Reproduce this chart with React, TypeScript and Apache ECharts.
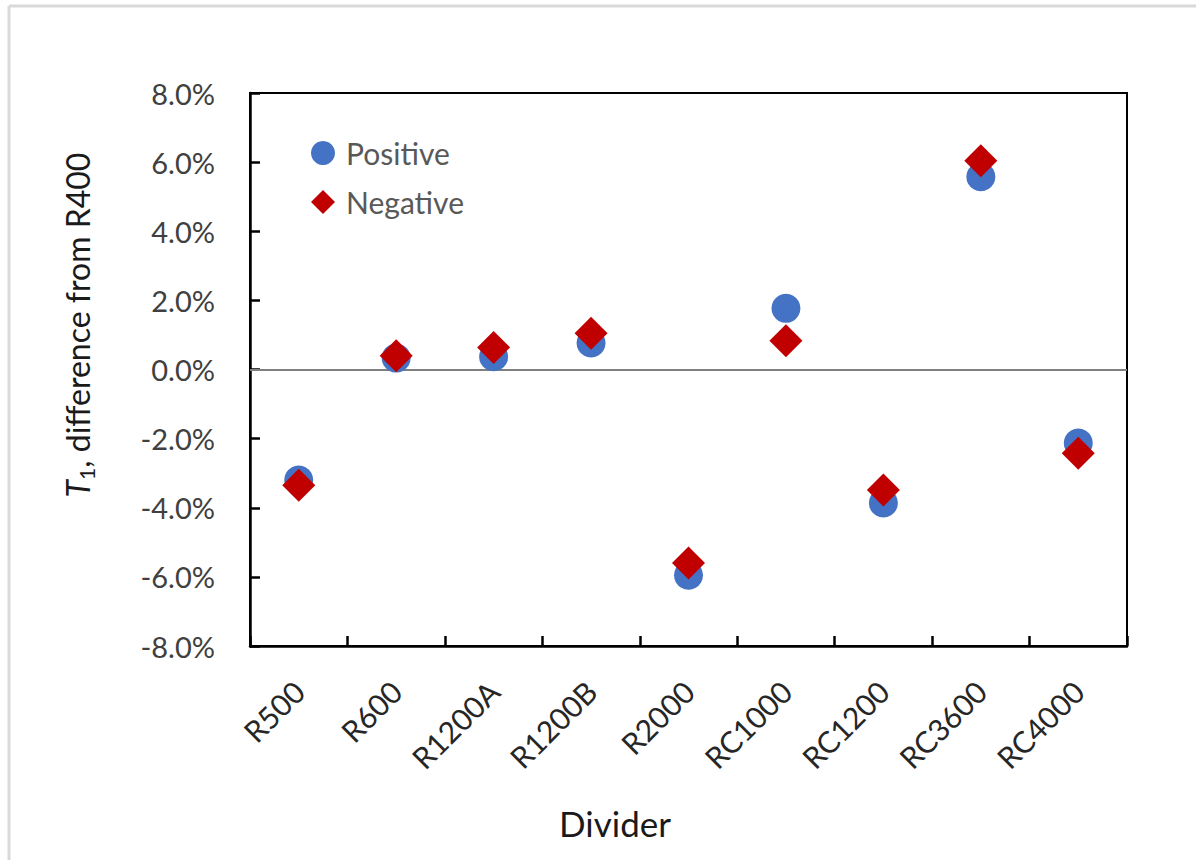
import React, { useEffect, useRef } from "react";
import * as echarts from "echarts";

const categories = ["R500", "R600", "R1200A", "R1200B", "R2000", "RC1000", "RC1200", "RC3600", "RC4000"];
const positiveValues = [-3.2, 0.33, 0.37, 0.77, -5.95, 1.77, -3.86, 5.58, -2.13];
const negativeValues = [-3.35, 0.4, 0.64, 1.05, -5.6, 0.83, -3.49, 6.04, -2.42];
const yTicks = { min: -8, max: 8, interval: 2 };

const FONT = "Lato, 'Open Sans', sans-serif";

export default function App() {
  const ref = useRef<HTMLDivElement>(null);
  useEffect(() => {
    if (!ref.current) return;
    const chart = echarts.init(ref.current, undefined, { renderer: "svg" });
    chart.setOption({
      animation: false,
      backgroundColor: "#ffffff",
      textStyle: { fontFamily: FONT },
      grid: {
        left: 250,
        right: 69,
        top: 93,
        bottom: 214,
        show: true,
        borderColor: "#000",
        borderWidth: 2,
        backgroundColor: "transparent",
      },
      legend: {
        orient: "vertical",
        left: 306,
        top: 133,
        itemWidth: 24,
        itemHeight: 24,
        itemGap: 19,
        textStyle: { fontSize: 30, color: "#595959", fontFamily: FONT, lineHeight: 30, padding: [0, 0, 0, 6] },
        data: [
          { name: "Positive", icon: "circle" },
          { name: "Negative", icon: "diamond" },
        ],
      },
      xAxis: {
        type: "category",
        data: categories,
        boundaryGap: true,
        axisLine: { show: true, onZero: false, lineStyle: { color: "#000", width: 2.5 } },
        axisTick: { show: true, inside: true, length: 10, alignWithLabel: false, lineStyle: { color: "#000", width: 2.5 } },
        axisLabel: { rotate: 45, margin: 40, fontSize: 30, color: "#262626", fontFamily: FONT, interval: 0 },
        splitLine: { show: false },
      },
      yAxis: {
        type: "value",
        min: yTicks.min,
        max: yTicks.max,
        interval: yTicks.interval,
        axisLine: { show: true, lineStyle: { color: "#000", width: 2.5 } },
        axisTick: { show: true, inside: true, length: 10, lineStyle: { color: "#000", width: 2.5 } },
        axisLabel: {
          margin: 35,
          fontSize: 29,
          color: "#404040",
          fontFamily: FONT,
          formatter: (v: number) => v.toFixed(1) + "%",
        },
        splitLine: { show: false },
      },
      graphic: [
        { type: "line", shape: { x1: 9, y1: 6, x2: 1196, y2: 6 }, style: { stroke: "#d9d9d9", lineWidth: 3 } },
        { type: "line", shape: { x1: 9, y1: 6, x2: 9, y2: 860 }, style: { stroke: "#d9d9d9", lineWidth: 3 } },
        {
          type: "text",
          x: 615,
          y: 823,
          style: {
            text: "Divider",
            font: `35px ${FONT}`,
            fill: "#1a1a1a",
            align: "center",
            verticalAlign: "middle",
          },
        },
        {
          type: "text",
          x: 77,
          y: 325,
          rotation: Math.PI / 2,
          style: {
            text: "{it|T}{sub|1}{n|, difference from R400}",
            fill: "#1a1a1a",
            align: "center",
            verticalAlign: "middle",
            rich: {
              it: { fontStyle: "italic", fontSize: 32, fontFamily: FONT, fill: "#1a1a1a", lineHeight: 40, verticalAlign: "middle" },
              sub: { fontSize: 21, fontFamily: FONT, fill: "#1a1a1a", lineHeight: 40, verticalAlign: "bottom" },
              n: { fontSize: 32, fontFamily: FONT, fill: "#1a1a1a", lineHeight: 40, verticalAlign: "middle" },
            },
          },
        },
      ],
      series: [
        {
          name: "Positive",
          type: "scatter",
          data: positiveValues,
          symbol: "circle",
          symbolSize: 29,
          itemStyle: { color: "#4472C4", opacity: 1 },
          z: 3,
          markLine: {
            silent: true,
            symbol: "none",
            label: { show: false },
            lineStyle: { color: "#808080", width: 2, type: "solid" },
            data: [{ yAxis: 0 }],
            z: 1,
          },
        },
        {
          name: "Negative",
          type: "scatter",
          data: negativeValues,
          symbol: "diamond",
          symbolSize: 33,
          itemStyle: { color: "#C00000", opacity: 1 },
          z: 4,
        },
      ],
    });
    return () => chart.dispose();
  }, []);
  return <div ref={ref} style={{ position: "fixed", left: 0, top: 0, width: 1196, height: 860 }} />;
}
